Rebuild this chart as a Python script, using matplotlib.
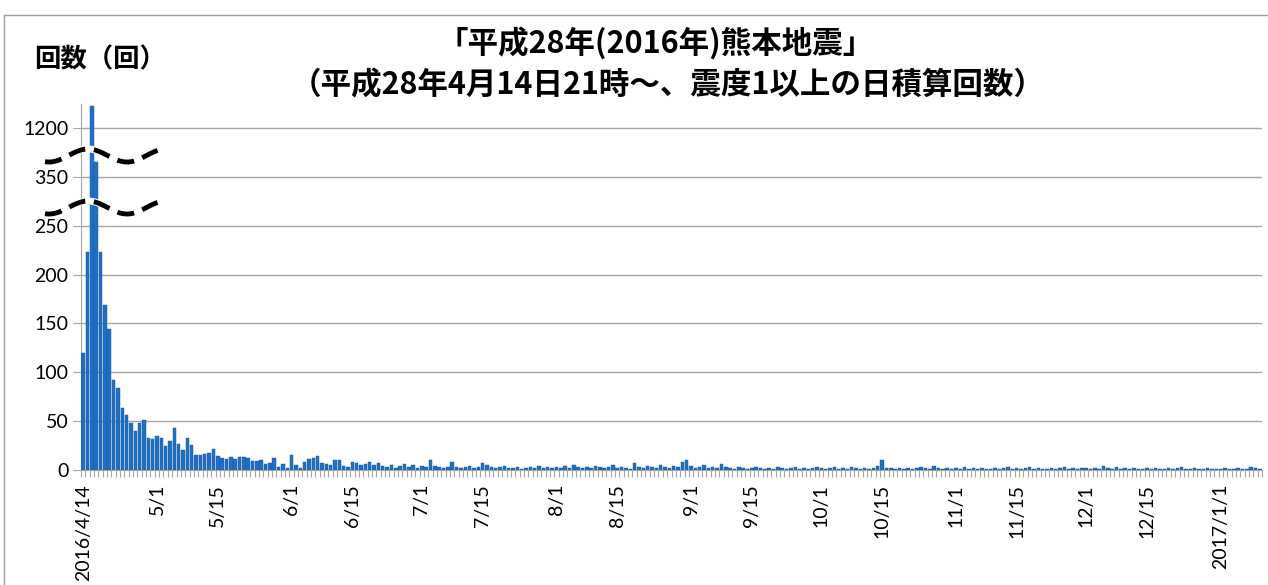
import numpy as np
import pandas as pd
import matplotlib
matplotlib.use("Agg")
import matplotlib.pyplot as plt
from matplotlib.lines import Line2D

# daily counts (震度1以上), from 2016/4/14
apr = [120, 223, 1223, 365, 223, 169, 144, 92, 84, 63, 56, 48, 40, 48, 51, 33, 32]
may = [35, 33, 25, 30, 43, 27, 20, 33, 26, 15, 15, 16, 17, 21, 14, 12, 11, 13, 11,
       13, 13, 12, 9, 9, 10, 6, 7, 12, 3, 6, 2]
jun = [15, 5, 2, 8, 11, 12, 14, 7, 6, 5, 10, 10, 4, 3, 8, 7, 5, 6, 8, 5, 7, 4, 3, 5,
       2, 4, 6, 3, 5, 2]
jul = [4, 3, 10, 4, 3, 2, 3, 8, 3, 2, 3, 4, 2, 3, 7, 5, 3, 2, 3, 4, 2, 2, 3, 1, 2, 3,
       2, 4, 2, 3, 2]
aug = [3, 2, 4, 2, 5, 3, 2, 3, 2, 4, 3, 2, 3, 5, 2, 3, 2, 1, 7, 3, 2, 4, 3, 2, 5, 3,
       2, 4, 3, 8, 10]
sep = [4, 2, 3, 5, 2, 3, 2, 6, 3, 2, 1, 3, 2, 1, 2, 3, 2, 1, 2, 1, 3, 2, 1, 2, 3, 1,
       2, 1, 2, 3]
oct_ = [2, 1, 2, 3, 1, 2, 1, 3, 2, 1, 2, 1, 2, 4, 10, 2, 2, 1, 2, 1, 2, 1, 2, 3, 2,
        1, 4, 2, 1, 2, 1]
nov = [2, 1, 3, 1, 2, 1, 2, 1, 1, 2, 1, 2, 3, 1, 2, 1, 2, 3, 1, 2, 1, 1, 2, 1, 2, 3,
       1, 2, 1, 2]
dec = [2, 1, 2, 1, 4, 2, 1, 3, 1, 2, 1, 2, 1, 1, 2, 1, 2, 1, 1, 2, 1, 2, 3, 1, 1, 2,
       1, 1, 2, 1, 1]
jan = [1, 2, 1, 1, 2, 1, 1, 3, 2, 1]

counts = apr + may + jun + jul + aug + sep + oct_ + nov + dec + jan
dates = pd.date_range("2016-04-14", periods=len(counts))

ytick_labels = ["0", "50", "100", "150", "200", "250", "350", "1200"]


def squash(v):
    # broken axis: 250..300 and 400..1150 are cut out
    if v <= 250:
        return v
    if v < 1000:
        return v - 50
    return v - 850


fig = plt.figure(figsize=(12.68, 5.85), dpi=100)
ax = fig.add_axes([81 / 1268, 1 - 470 / 585, (1262 - 81) / 1268, (470 - 103.6) / 585])

x = np.arange(len(counts))
h = [squash(v) for v in counts]
ax.bar(x, h, 0.8, color="#1F6FC5", edgecolor="#17589E", linewidth=0.3, zorder=3)

ax.set_xlim(-0.5, len(counts) - 0.5)
ax.set_ylim(0, 375)

ax.set_yticks(np.arange(0, 351, 50))
ax.set_yticklabels(ytick_labels, fontsize=14, family="Lato")
ax.yaxis.grid(True, color="#A6A6A6", linewidth=1, zorder=0)
ax.tick_params(axis="y", length=6, color="#A6A6A6", pad=3)

tick_pos = [0] + [i for i, d in enumerate(dates) if d.day in (1, 15) and i > 1]
tick_lab = []
for i in tick_pos:
    d = dates[i]
    if i == 0 or (d.month == 1 and d.day == 1):
        tick_lab.append(f"{d.year}/{d.month}/{d.day}")
    else:
        tick_lab.append(f"{d.month}/{d.day}")
ax.set_xticks(tick_pos)
ax.set_xticklabels(tick_lab, rotation=90, fontsize=14, family="Lato", va="top")
ax.tick_params(axis="x", which="major", length=0, pad=10)
ax.set_xticks(np.arange(len(counts) + 1) - 0.5, minor=True)
ax.tick_params(axis="x", which="minor", length=5, color="#A6A6A6", width=0.8)

for s in ["top", "right"]:
    ax.spines[s].set_visible(False)
for s in ["left", "bottom"]:
    ax.spines[s].set_color("#A6A6A6")

# wavy break marks (figure pixels)
xs = np.linspace(45, 160, 80)
for yc in (155.5, 207.5):
    ys = yc - 6.5 * np.cos(2 * np.pi * (xs - 88) / 78)
    fx, fy = xs / 1268, 1 - ys / 585
    fig.add_artist(Line2D(fx, fy, color="white", lw=5, zorder=10))
    fig.add_artist(Line2D(fx, fy, color="black", lw=3.5, ls=(0, (3.5, 1.8)), zorder=11))

# chart-area border
fig.add_artist(Line2D([4 / 1268, 1], [1 - 15 / 585] * 2, color="#A0A0A0", lw=1))
fig.add_artist(Line2D([4 / 1268] * 2, [0, 1 - 15 / 585], color="#A0A0A0", lw=1))

jp = ["Noto Sans CJK JP", "DejaVu Sans"]
fig.text(656 / 1268, 1 - 43 / 585, "「平成28年(2016年)熊本地震」", ha="center", va="center",
         fontsize=22, fontweight="bold", family=jp)
fig.text(668 / 1268, 1 - 85 / 585, "（平成28年4月14日21時～、震度1以上の日積算回数）",
         ha="center", va="center", fontsize=22, fontweight="bold", family=jp)
fig.text(100 / 1268, 1 - 60 / 585, "回数（回）", ha="center", va="center",
         fontsize=19, fontweight="bold", family=jp)

fig.savefig("out.png", dpi=100)
